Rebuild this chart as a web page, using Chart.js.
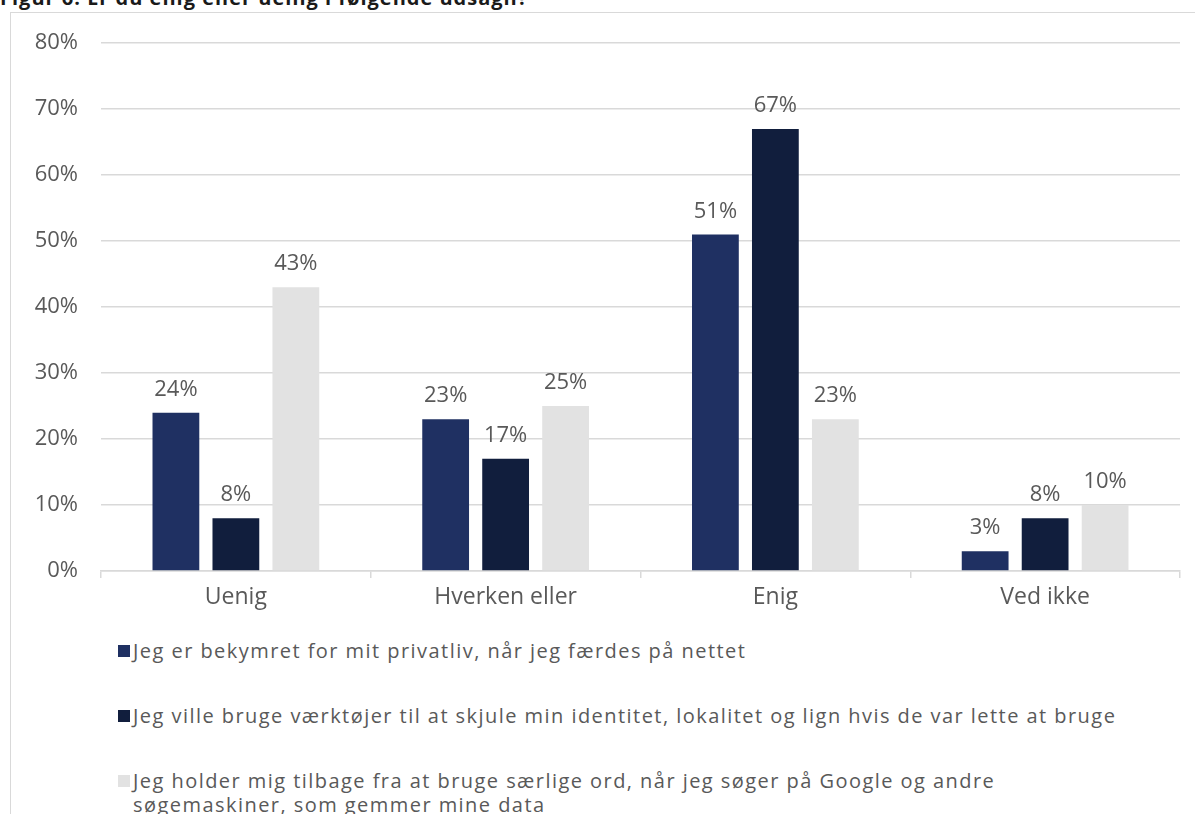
<!DOCTYPE html>
<html lang="da">
<head>
<meta charset="utf-8">
<title>Figur 6</title>
<script src="https://cdn.jsdelivr.net/npm/chart.js@4/dist/chart.umd.min.js"></script>
<style>
  html, body { margin: 0; padding: 0; background: #fff; overflow: hidden; }
  body { width: 1195px; height: 814px; position: relative; font-family: "Open Sans", sans-serif; }
  .title { position: absolute; left: 0; top: -16px; font-size: 20px; font-weight: 700; letter-spacing: 1px; color: #1a1a1a; white-space: nowrap; line-height: 27px; }
  .frame { position: absolute; left: 10px; top: 12px; right: 0; bottom: 0; border-left: 1px solid #d9d9d9; border-top: 1px solid #d9d9d9; }
  .chart-wrap { position: absolute; left: 11px; top: 7px; width: 1184px; height: 626px; }
  .legend { position: absolute; left: 118px; top: 639px; color: #595959; font-size: 20px; letter-spacing: 1.45px; }
  .legend-item { position: relative; padding-left: 15px; line-height: 24px; width: 1000px; }
  .legend-item + .legend-item { margin-top: 41px; }
  .swatch { position: absolute; left: 0; top: 6px; width: 12px; height: 12px; }
</style>
</head>
<body>
<div class="title">Figur 6. Er du enig eller uenig i følgende udsagn?</div>
<div class="frame"></div>
<div class="chart-wrap"><canvas id="c"></canvas></div>
<div class="legend" id="legend"></div>
<script>
// Kategorier og serier (andel i %)
const categories = ['Uenig', 'Hverken eller', 'Enig', 'Ved ikke'];
const seriesNames = [
  'Jeg er bekymret for mit privatliv, når jeg færdes på nettet',
  'Jeg ville bruge værktøjer til at skjule min identitet, lokalitet og lign hvis de var lette at bruge',
  'Jeg holder mig tilbage fra at bruge særlige ord, når jeg søger på Google og andre søgemaskiner, som gemmer mine data',
];
const bekymret = [24, 23, 51, 3];
const vaerktoejer = [8, 17, 67, 8];
const tilbage = [43, 25, 23, 10];
const colors = ['#1F3062', '#111E3D', '#E2E2E2'];
const yTicks = [0, 10, 20, 30, 40, 50, 60, 70, 80];

const FONT = '"Open Sans", sans-serif';
const TXT = '#595959';
const GRID = '#d9d9d9';

// Procent-etiketter over søjlerne
const valueLabels = {
  id: 'valueLabels',
  afterDatasetsDraw(chart) {
    const { ctx } = chart;
    ctx.save();
    ctx.font = `22px ${FONT}`;
    ctx.fillStyle = TXT;
    ctx.textAlign = 'center';
    ctx.textBaseline = 'alphabetic';
    chart.data.datasets.forEach((ds, i) => {
      chart.getDatasetMeta(i).data.forEach((bar, j) => {
        ctx.fillText(ds.data[j] + '%', bar.x, bar.y - 17);
      });
    });
    ctx.restore();
  },
};

const data = [bekymret, vaerktoejer, tilbage];

new Chart(document.getElementById('c'), {
  type: 'bar',
  data: {
    labels: categories,
    datasets: data.map((d, i) => ({
      label: seriesNames[i],
      data: d,
      backgroundColor: colors[i],
      categoryPercentage: 0.667,
      barPercentage: 0.78,
    })),
  },
  options: {
    responsive: true,
    maintainAspectRatio: false,
    animation: false,
    layout: { padding: { top: 12, right: 15, bottom: 0, left: 0 } },
    plugins: { legend: { display: false }, tooltip: { enabled: false } },
    scales: {
      x: {
        grid: { drawOnChartArea: false, drawTicks: true, tickLength: 7, color: GRID, lineWidth: 1.5 },
        border: { display: true, color: GRID, width: 1.5 },
        ticks: { color: TXT, font: { family: FONT, size: 23 }, padding: 6 },
        afterFit(s) { s.height = 62; },
      },
      y: {
        min: 0,
        max: 80,
        afterBuildTicks(s) { s.ticks = yTicks.map((v) => ({ value: v })); },
        grid: { color: GRID, lineWidth: 1.5, drawTicks: false },
        border: { display: false },
        ticks: {
          color: TXT,
          font: { family: FONT, size: 22 },
          padding: 23,
          callback: (v) => v + '%',
        },
        afterFit(s) { s.width = 90; },
      },
    },
  },
  plugins: [valueLabels],
});

// HTML-legende
const legend = document.getElementById('legend');
seriesNames.forEach((name, i) => {
  const item = document.createElement('div');
  item.className = 'legend-item';
  item.innerHTML = `<span class="swatch" style="background:${colors[i]}"></span>${name}`;
  legend.appendChild(item);
});
</script>
</body>
</html>
